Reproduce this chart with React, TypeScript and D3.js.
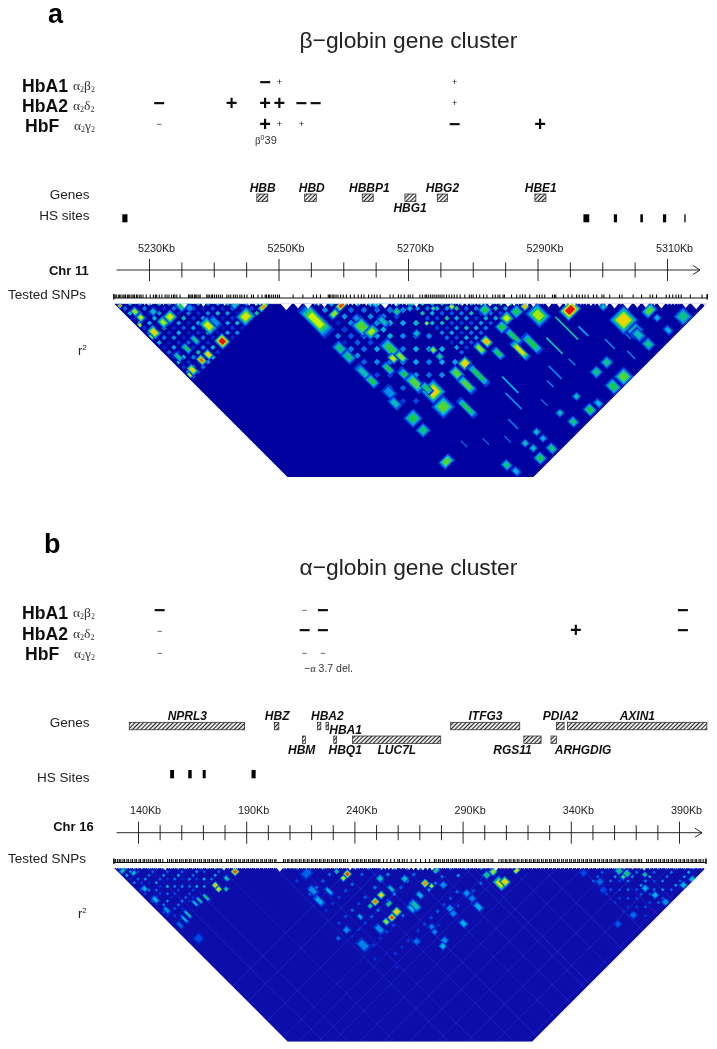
import React from 'react';
import * as d3 from 'd3';

// ---- beta-globin panel ----
const betaSnps = [24.5,24.7,24.9,25.2,25.4,25.6,25.9,26.1,26.3,26.6,26.8,27.0,27.3,27.5,27.7,28.0,28.2,28.5,28.7,29.0,29.5,30.1,30.6,30.9,31.1,31.5,31.9,32.4,32.7,33.0,33.4,33.7,33.9,34.2,34.7,36.0,36.2,36.4,36.6,36.9,37.1,37.3,37.6,37.8,38.8,39.0,39.2,39.5,39.7,40.0,40.3,40.6,40.9,41.2,41.9,42.2,42.5,42.9,43.2,43.5,43.9,44.2,44.6,45.0,45.7,46.0,46.7,47.3,47.8,48.0,48.3,48.5,48.8,49.1,49.4,49.7,50.0,52.1,53.6,55.2,55.7,56.3,57.5,57.7,57.9,58.2,58.4,58.7,59.0,59.4,59.8,60.3,60.9,61.5,62.1,62.6,63.0,63.7,64.2,64.6,65.0,65.5,67.0,67.5,68.3,68.7,69.2,69.8,70.1,70.5,71.6,72.0,72.4,72.6,72.9,73.2,73.5,73.8,74.1,74.4,74.7,75.0,75.3,75.7,76.1,76.5,76.9,77.3,77.8,78.5,79.2,79.5,79.8,80.3,80.8,81.4,81.9,82.8,83.2,83.6,83.9,84.4,84.6,85.7,86.5,87.0,87.4,87.8,88.5,89.6,90.0,90.4,90.8,92.0,92.3,92.5,93.7,94.4,95.0,95.7,96.1,96.6,97.0,97.5,98.3,98.8,99.6,99.9,100.8,102.3,102.7,104.4,105.7,107.0,107.4,108.0,109.5,110.0,110.5,111.0,111.4,111.8,113.2,115.0,115.8];
const betaBlocks = [
  [25.1,25.8,.6,.6,.9],[25.2,31.8,.5,.7,.8],[25.2,35.4,.5,1,.62],[25.2,47.2,.5,1,.7],
  [26.5,29,1,1.2,.6],[26.5,30.8,1,1.2,.65],[26.3,35.1,1.2,1.8,.78],[31.1,35.2,1.6,1.6,.68],[29.2,35,1.2,1.6,.62],[34.7,35.2,1.5,1.5,.5],
  [35.6,42.5,1.6,2.4,.68],[35.4,47,1.6,1.8,.97],[31.2,46.9,1,1.4,.8],[29.3,46.7,1,1.4,.88],[26.4,46.8,1,1.6,.75],[28.8,42.6,.8,1.6,.5],[26.2,42.6,.8,1.6,.45],[31.4,42.6,.8,1.6,.45],
  [42.8,46.8,2.2,2,.7],[47,48,1.6,.8,.85],[29.3,31.8,1,1,.4],[37.3,42.9,1,2,.3],[42.9,43.4,1.2,1,.4],[35.5,36.9,1,1,.3],
  [53,58.2,2,5.5,.66],[52.4,66.2,1.4,2,.45],[52.4,68.8,1.4,2,.45],[52.3,73.6,1.2,3,.4],[52.3,76.2,1.2,2,.5],[53.2,80.6,1.4,2,.3],[52.4,83.1,1.2,2,.4],
  [59.3,59.8,1.8,1,.92],[56.8,60,1.5,1,.6],[59.1,66.2,2,2.5,.55],[59.8,68.5,2,1.5,.62],[60.1,74,1.6,3,.52],[59,75.9,1,1.5,.72],[56.7,76.7,1,2,.5],[64.7,65,1,1,.4],[66.8,69.3,1,1,.5],[59.6,64.1,1,1,.3],[63.2,68.7,1,2,.4],
  [93.7,95.7,2.6,2,.97],[88,91.6,2.4,3,.62],[87.3,88.2,1,1,.82],[85.2,87.7,1.5,1.5,.5],[82.7,87.2,1.6,1.6,.66],[80.6,87.8,1.5,1.5,.5],[80.6,82.6,1.5,1.5,.5],[76,87.7,1.2,1.6,.82],[73.9,87.8,1,2,.6],[80.9,91.1,1,3,.5],[79.8,94.2,1,3.5,.72],[82.7,95,1.2,3.5,.5],[76,91.3,1,2,.5],[69.3,87.7,1.6,1.5,.8],[66.5,88,1.4,2,.55],[69.6,91.6,1,4,.5],[66.3,91.3,1.2,3,.55],[60.1,87.2,2.6,2.6,.76],[59.3,91.1,2.4,2.4,.55],[52.9,88.2,2,2,.5],[58.3,80.8,1.2,3,.5],[58.6,83.1,1.5,3,.55],[59.6,85.7,1,2,.5],[62.8,94.9,1,3.5,.5],[60.5,76.9,1,2,.6],[66.5,80.8,.9,1,.6],[66.5,82.8,.9,1,.45],[66.5,75.7,1,1,.4],[69.6,75.7,.6,.6,.7],[76,77,.8,.8,.7],[72.9,74.4,.6,.6,.55],[69.3,70.8,.8,.8,.4],
  [100.4,105.5,3,3,.76],[100.5,108.9,2,1.6,.5],[100.4,110,1.4,2,.4],[100.5,113,1.4,1.6,.45],[105.8,108,2,1.4,.55],[105.9,110.3,1,1,.35],[105.7,113.9,1,1.4,.35],[110.1,114.1,2,2,.45],
  [91.7,114.2,2,2,.55],[88.6,114.1,1.6,2,.5],[91.3,109.4,1.4,1.4,.45],[88.2,109.3,1.4,1.4,.45],[81.4,114.1,1.4,1.6,.5],[83.7,114.4,1,1.4,.35],[81.4,110,1,1,.4],[77,113.4,1.2,1.4,.45],[76.3,110,1,1,.4],[69.6,114.2,1.2,1.5,.45],[66.3,113.9,1.4,1.5,.5],[66.3,109.3,1,1,.4],[66.8,111.3,1,1,.4],[60.1,109.8,1.2,1.4,.45],[60.6,112.2,1,1.4,.35],[51.4,100,2,1.4,.55],[52.6,91.6,1.6,1.6,.45],[69.8,109.3,1,1,.4],[69.8,111.3,1,1,.35],[99.3,100.3,1,1,.4]
];
const betaStreaks = [[90.4,98,.4,7,.42],[85.8,98.8,.4,5,.4],[92.5,101,.4,3,.32],[73,98,.4,5,.36],[71,101,.4,5,.3],[67.4,104.5,.4,3,.26],[86,104,.3,2,.3],[81.8,103,.4,4,.28],[94.6,107,.3,3,.32],[98.6,108,.3,3,.28],[96.2,112,.3,2.5,.3],[56.8,100,.3,2,.25],[60.5,103,.3,2,.26],[64.2,106,.3,2,.25],[75.5,106,.3,2,.28],[79.3,104,.3,2,.3]];

// coarse r2 readings in percent, rows by left SNP, columns by right SNP
const betaGridPos1 = [25.5,27,28.5,30,31.5,33,34.5,36,37.5,39,40.5,42,43.5,45,46.5,48];
const betaGridR1 = [
  [30,25,38,8,42,14,30,6,36,10,24,8,40,12,34,20],
  [36,9,31,16,34,12,28,26,7,32,11,35,13,29,18],
  [28,27,10,37,8,44,12,30,14,33,10,28,9,26],
  [37,8,30,18,27,11,36,9,24,12,41,16,31],
  [42,12,33,7,31,22,9,38,11,29,8,36],
  [29,26,11,39,9,32,14,28,12,37,15],
  [35,10,28,16,36,8,42,11,30,9],
  [31,22,13,33,15,34,8,37,14],
  [36,9,29,12,40,7,32,11],
  [28,21,37,10,33,16,29],
  [34,12,31,14,38,9],
  [32,24,8,41,17],
  [37,11,33,9],
  [30,19,42],
  [35,16],
  [44]
];
const betaGridPos2 = [54,56,58,60,62,64,66,68,70];
const betaGridR2 = [
  [18,26,12,34,14,28,10,22,30],
  [24,30,20,10,32,16,24,14],
  [36,12,30,22,12,34,20],
  [32,24,14,36,18,26],
  [34,20,30,12,36],
  [38,16,28,22],
  [30,34,18],
  [36,26],
  [40]
];
const betaGridPos3 = [70.5,72,73.5,75,76.5,78,79.5,81,82.5,84,85.5];
const betaGridR3 = [
  [38,30,42,22,36,18,30,26,12,34,24],
  [44,26,36,20,40,14,34,20,30,16],
  [40,34,24,42,20,32,14,36,22],
  [46,30,22,36,18,40,26,30],
  [38,42,28,32,20,36,24],
  [34,24,40,16,32,28],
  [36,28,18,38,22],
  [42,30,26,34],
  [36,38,20],
  [44,32],
  [40]
];
const betaGridA4 = [54,56,58,60,62,64,66,68];
const betaGridB4 = [64,66,68,70,72,74,76,78,80,82,84,86];
const betaGridR4 = [
  [0,0,28,0,24,0,18,0,22,0,16,0],
  [16,22,0,26,0,30,0,18,0,24,0,20],
  [30,0,24,0,34,0,26,0,28,0,22,0],
  [0,28,0,32,0,26,0,32,0,30,0,26],
  [26,0,30,0,36,0,28,0,34,0,26,0],
  [34,24,0,36,0,30,0,36,0,28,0,30],
  [0,32,26,0,34,0,30,0,32,0,34,0],
  [36,0,34,28,0,38,0,28,0,36,0,32]
];

const betaGenes = [
  { name: 'HBB', start: 5246.7, end: 5248.4, labelKb: 5247.6, row: 0, labelRow: 0 },
  { name: 'HBD', start: 5254.1, end: 5255.9, labelKb: 5255.2, row: 0, labelRow: 0 },
  { name: 'HBBP1', start: 5263, end: 5264.7, labelKb: 5264.1, row: 0, labelRow: 0 },
  { name: 'HBG1', start: 5269.6, end: 5271.3, labelKb: 5270.4, row: 0, labelRow: 1 },
  { name: 'HBG2', start: 5274.6, end: 5276.2, labelKb: 5275.4, row: 0, labelRow: 0 },
  { name: 'HBE1', start: 5289.7, end: 5291.4, labelKb: 5290.6, row: 0, labelRow: 0 }
];
const betaHsSites = [[5225.9,5226.7],[5297.2,5298.1],[5301.9,5302.4],[5306,5306.4],[5309.5,5310],[5312.8,5313]];
const betaMarks = [
  [5248,0,'−',1],[5250.2,0,'+',0],[5277.3,0,'+',0],
  [5231.6,1,'−',1],[5242.8,1,'+',1],[5248,1,'+',1],[5250.2,1,'+',1],[5253.6,1,'−',1],[5255.8,1,'−',1],[5277.3,1,'+',0],
  [5231.6,2,'−',0],[5248,2,'+',1],[5250.2,2,'+',0],[5253.6,2,'+',0],[5277.3,2,'−',1],[5290.5,2,'+',1]
];
const betaAxisLabels = [5230,5250,5270,5290,5310];

// ---- alpha-globin panel ----
const alphaSnps = [128.4,129.2,130.1,130.9,131.6,132.6,133.3,134.4,135.1,136.2,137,138.1,138.8,140,140.7,141.9,142.6,143.6,144.5,145.4,146.3,147.4,148.1,149.2,149.9,151,153.2,154.1,155,155.8,156.9,157.6,158.7,159.5,160.4,161.5,162.2,163.3,164.1,165.2,166,167.1,168,168.8,170,170.7,171.8,172.6,173.7,174.4,175.5,176.3,177.4,178.2,180.4,181.2,182.3,183,184.2,185,186.1,186.8,188,188.7,189.8,190.6,191.7,192.5,193.3,194.4,195.1,196.3,197,198.1,198.9,200,200.8,201.6,202.7,203.3,206.8,207.6,208.7,209.3,210.4,211.1,212.2,213,214.1,214.9,216,216.7,217.8,218.6,219.7,220.4,221.5,222.3,223.4,224.1,225.2,226,227.1,227.9,229,229.7,230.8,231.6,232.7,233.4,234.5,235.3,236.4,238.6,239.4,240.5,241.2,242.3,243.1,244.2,245,246.1,246.8,247.9,248.7,249.6,250.6,251.3,253,254.6,256.3,258,259.6,260.4,261.7,262.6,263.9,265.8,267.9,270.1,272.4,274.3,276.5,277.3,278.4,279.2,280.3,281.1,282.2,283,284.1,284.9,286,286.7,287.8,288.6,289.7,290.4,291.5,292.3,293.4,294.1,295.2,296,297.1,297.9,299,299.7,300.8,301.6,302.7,303.5,306.3,307.4,308.2,309.3,310,311.1,311.9,313,313.7,314.8,315.6,316.7,317.5,318.6,319.3,320.4,321.2,322.3,323,324.1,324.9,326,326.8,327.9,328.6,329.7,330.5,331.6,332.3,333.4,334.2,335.3,336.1,337.2,337.9,339,339.8,340.9,341.6,342.7,343.5,344.6,345.4,346.5,347.2,348.3,349.1,350.2,350.9,352,352.8,353.9,354.7,355.8,356.5,357.6,358.4,359.5,360.3,361.4,362.1,363.2,364,365.1,365.8,366.9,367.7,368.8,369.6,370.7,371.4,372.3,374.6,375.4,376.5,377.2,378.3,379.1,380.2,381,382.1,382.8,383.9,384.7,385.8,386.5,387.6,388.4,389.5,390.3,391.4,392.1,393.2,394,395.1,395.9,397,397.7,398.8,399.6,400.7,402];
const alphaBlocks = [
  [182.7,186.1,3,3,.92],[167.3,183.2,2.5,2.5,.82],[167,186.6,2.5,2.5,.76],[170.5,190,2,2,.46],[175.7,185.3,2,3,.42],[157.5,184.6,1.5,4,.5],[153,182.9,1.5,4,.42],[141.2,183.8,1.5,5,.42],[137.4,184.6,1.5,5,.36],[149.6,182.2,1.5,4,.36],[133,152.1,2.5,3,.36],[132.9,162.2,2.5,4,.36],[133.4,172.2,2,4,.3],[132.6,185.3,2,4,.24],[134.9,200,4,4,.2],
  [208.1,238.4,3,6,.34],[209.9,230.7,3,5,.3],[217.1,238.5,2,5,.35],[233.5,239,3,3,.92],[229.7,239.2,2.5,2.5,.66],[229.7,233,2,2,.46],[239.4,264.4,3,3,.76],[233.5,264.7,3,3,.88],[229.2,264.4,2,2,.5],[238.9,279.3,3.5,3.5,.8],[234,279.7,3,3,.92],[229.4,279,2.5,3,.6],[239,272,3,2,.5],[207.3,264.5,3,3,.3],[208,279.2,4,6,.28],[222.9,279.3,3,5,.3],[219.7,264.7,2,3,.35],[246.9,266.2,2,4,.4],[247.3,284.7,3,5,.35],[199.6,264.6,2,2,.25],[234.3,302.3,3,3,.26],[246.6,256.2,3,3,.4],[257.8,267.8,3,3,.4],[131.1,133.7,3,2,.42],[135.2,139.9,2.5,2,.4],[215,220,5,4,.24],
  [265.1,279.3,3,3,.86],[266.9,283.5,2,2,.7],[276.2,278.5,3,2,.5],[272.8,288.5,3,3,.3],[299.7,314,4,6,.74],[302.8,315.5,3.5,4,.8],[313.3,315.7,3,2,.8],[301.9,305.4,3,3,.6],[297.4,303.9,3,3,.46],[279.7,303.1,3,3,.3],[279.9,308,3,3,.28],[278.9,314.7,3,5,.36],[265,302.4,3,3,.3],[264.2,306.2,3,3,.28],[264.3,315.5,3,4,.36],[248.2,302.4,2.5,2.5,.28],[247,306.2,2.5,2.5,.28],[247.7,314.7,3,3,.3],[244.3,316.5,3,3,.38],[250.4,284.8,3,6,.42],[257.3,282.3,2.5,4,.36],
  [361.3,367.9,5,2,.56],[363,368,3,3,.5],[360.4,363.2,3,3,.46],[370.7,376.8,2,2,.5],[366,391,3,3,.36],[364.5,383.3,3,3,.35],[383.7,399.5,3,3,.38],[390.5,401,3,3,.4],[367.5,399,3,3,.3],[346.7,390.2,3,3,.25],[335.4,387.2,3,3,.22],[343.1,347.8,3,3,.2],[346.7,359.3,3,3,.25],[344.4,364.8,3,3,.2]
];
const alphaGridPos1 = [131,134.4,137.8,141.2,144.6,148,151.4,154.8,158.2,161.6,165,168.4,171.8,175.2,178.6];
const alphaGridR1 = [
  [30,22,34,12,28,0,24,18,0,26,14,0,20,12,0],
  [26,30,0,24,18,0,28,0,22,0,26,12,0,18],
  [32,20,0,30,14,0,24,18,0,28,0,22,0],
  [28,0,26,0,32,16,0,24,12,0,26,14],
  [30,24,0,22,0,34,0,20,0,28,0],
  [26,0,30,14,0,28,18,0,24,12],
  [32,22,0,26,0,30,0,22,14],
  [28,0,34,12,0,26,20,0],
  [30,24,0,28,0,36,0],
  [32,0,26,18,0,30],
  [28,30,0,34,12],
  [34,22,0,26],
  [30,0,32],
  [36,24],
  [32]
];
const alphaGridPos2 = [207,213,219,225,231,240,246,252,258,264,270,276,284,291,298,305];
const alphaGridR2 = [
  [24,0,18,0,22,0,14,0,18,0,12,0,0,14,0,0],
  [26,20,0,24,0,16,0,20,0,14,0,16,0,0,12],
  [28,0,22,0,18,0,24,0,18,0,14,0,16,0],
  [30,24,0,20,0,18,0,22,0,18,0,14,0],
  [26,0,24,0,22,0,26,0,20,0,16,0],
  [28,22,0,26,0,20,0,24,0,16,0],
  [30,0,24,0,28,0,22,0,18,0],
  [26,28,0,22,0,26,0,20,14],
  [30,0,26,0,24,0,22,0],
  [28,24,0,28,0,18,0],
  [30,0,26,0,22,16],
  [32,24,0,24,0],
  [26,30,0,20],
  [28,0,24],
  [30,22],
  [26]
];
const alphaGridPos3 = [344,348,352,356,360,364,368,372,376,380,384,388,392,396];
const alphaGridR3 = [
  [26,22,0,24,0,18,20,0,16,0,14,0,0,0],
  [28,0,24,18,0,22,0,18,0,16,0,14,0],
  [26,24,0,26,0,20,0,22,0,18,0,16],
  [28,0,30,20,0,26,0,18,0,22,0],
  [30,26,0,28,0,22,24,0,20,0],
  [34,0,28,0,30,0,20,0,24],
  [36,26,0,28,0,26,0,22],
  [30,0,32,20,0,30,0],
  [28,24,0,28,0,24],
  [30,0,26,0,30],
  [26,28,0,24],
  [32,0,30],
  [28,34],
  [30]
];
const alphaFaintA = [145,156.5,178,203,215,233,246,263,277,290.5,294.8,312,326,344,358,372];
const alphaFaintB = [238,252,270,285,294,303,310,322,333,345,358,372,385,398.7];
const alphaGenes = [
  { name: 'NPRL3', start: 135.8, end: 189.4, labelKb: 162.8, row: 0, labelRow: 0 },
  { name: 'HBZ', start: 203.2, end: 205.3, labelKb: 204.5, row: 0, labelRow: 0 },
  { name: 'HBA2', start: 223.2, end: 224.8, labelKb: 227.8, row: 0, labelRow: 0 },
  { name: 'HBA1', start: 227.2, end: 228.4, labelKb: 236.3, row: 0, labelRow: 1 },
  { name: 'ITFG3', start: 285.1, end: 317.2, labelKb: 301.3, row: 0, labelRow: 0 },
  { name: 'PDIA2', start: 334.2, end: 337.8, labelKb: 336.1, row: 0, labelRow: 0 },
  { name: 'AXIN1', start: 339.3, end: 404.1, labelKb: 371.8, row: 0, labelRow: 0 },
  { name: 'HBM', start: 216.3, end: 217.6, labelKb: 215.9, row: 1, labelRow: 2 },
  { name: 'HBQ1', start: 230.8, end: 232.1, labelKb: 236.1, row: 1, labelRow: 2 },
  { name: 'LUC7L', start: 239.5, end: 280.5, labelKb: 260.1, row: 1, labelRow: 2 },
  { name: 'RGS11', start: 319.1, end: 327.1, labelKb: 313.8, row: 1, labelRow: 2 },
  { name: 'ARHGDIG', start: 331.7, end: 334.2, labelKb: 346.6, row: 1, labelRow: 2 }
];
const alphaHsSites = [[154.8,156.6],[163.2,164.8],[169.9,171.3],[192.6,194.5]];
const alphaMarks = [
  [149.9,0,'−',1],[217.2,0,'−',0],[225.7,0,'−',1],[393,0,'−',1],
  [149.9,1,'−',0],[217.2,1,'−',1],[225.7,1,'−',1],[343.3,1,'+',1],[393,1,'−',1],
  [149.9,2,'−',0],[217.2,2,'−',0],[225.7,2,'−',0]
];
const alphaAxisLabels = [140,190,240,290,340,390];

const hbNames = ['HbA1', 'HbA2', 'HbF'];
const hbChains = ['β', 'δ', 'γ'];

const r2Color = d3.scaleLinear<string>()
  .domain([0, .2, .35, .5, .65, .8, .95])
  .range(['#00009e', '#0046e6', '#00b4e6', '#14c850', '#c8f000', '#ffc800', '#ee2000']);

const SANS = '"Liberation Sans", Arial, sans-serif';
const SERIF = '"Liberation Serif", serif';

// turns a triangular table into block rows [a, b, widthA, widthB, r2]
const triCells = (pos: number[], rows: number[][], w: number) =>
  rows.flatMap((row, i) => row.map((v, k) => [pos[i], pos[i + k], w, w, v / 100])).filter(d => d[4] > 0 && d[1] > d[0] - .01);
const rectCells = (as: number[], bs: number[], rows: number[][], w: number) =>
  rows.flatMap((row, i) => row.map((v, j) => [as[i], bs[j], w, w, v / 100])).filter(d => d[4] > 0);

function Panel({ cfg }: { cfg: any }) {
  const axisX = d3.scaleLinear().domain(cfg.domain).range(cfg.axisRange);
  const featX = d3.scaleLinear().domain(cfg.domain).range(cfg.featRange);
  const x = d3.scaleLinear().domain(cfg.domain).range(cfg.trackRange);
  const base = cfg.snpBase;
  const snps: number[] = cfg.snpList.map((d: number) => d + base);
  const first = snps[0];
  const last = snps[snps.length - 1];
  const top = cfg.heatTop;
  const depth = cfg.heatBottom - top;
  const pt = (a: number, b: number) => {
    const xa = x(a), xb = x(b);
    return [(xa + xb) / 2, top + (xb - xa) / 2];
  };
  const poly = (a: number, b: number, wa: number, wb: number) =>
    [[a - wa / 2, b - wb / 2], [a + wa / 2, b - wb / 2], [a + wa / 2, b + wb / 2], [a - wa / 2, b + wb / 2]]
      .map(([p, q]) => pt(p + base, q + base).join(',')).join(' ');

  const trapezoid = [
    [x(first), top], [x(last), top], [x(last) - depth, top + depth], [x(first) + depth, top + depth]
  ].map(d => d.join(',')).join(' ');

  // a block is drawn as nested rings, cold at the rim and hot in the middle
  const rings = (row: number[], key: string) => {
    const [a, b, wa, wb, v] = row;
    const n = v > .6 ? 5 : v > .3 ? 3 : 2;
    return d3.range(n).map(k => {
      const t = (k + 1) / n;
      const s = 1.55 - 1.1 * (k / n);
      return <polygon key={key + '-' + k} points={poly(a, b, wa * s, wb * s)} fill={r2Color(v * t)} />;
    });
  };

  const heatBlocks = cfg.blocks.map((row: number[], i: number) => rings(row, 'b' + i));
  const speckles = cfg.speckles.map((row: number[], i: number) => (
    <polygon key={'s' + i} points={poly(row[0], row[1], row[2], row[3])} fill={r2Color(row[4])} />
  ));
  const streaks = (cfg.streaks || []).map(([a, b, wa, wb, v]: number[], i: number) => (
    <polygon key={'l' + i} points={poly(a, b, wa, wb)} fill={r2Color(v)} />
  ));
  const span = 2 * depth / (x(1) - x(0));
  const faintA = (cfg.faintA || []).map((a: number, i: number) => {
    const [x1, y1] = pt(a, a);
    const [x2, y2] = pt(a, a + span);
    return <line key={'fa' + i} x1={x1} y1={y1} x2={x2} y2={y2} stroke="#3a50e8" strokeWidth={.7} opacity={.55} />;
  });
  const faintB = (cfg.faintB || []).map((b: number, i: number) => {
    const [x1, y1] = pt(b, b);
    const [x2, y2] = pt(b - span, b);
    return <line key={'fb' + i} x1={x1} y1={y1} x2={x2} y2={y2} stroke="#3a50e8" strokeWidth={.7} opacity={.55} />;
  });

  // notches along the top edge come from the spacing between adjacent SNPs
  const notches = d3.pairs(snps).map(([a, b], i) => {
    const [mx, my] = pt(a, b);
    return <polygon key={'n' + i} points={`${x(a)},${top - 1} ${x(b)},${top - 1} ${mx},${my}`} fill="#fff" />;
  });

  const ticks = d3.range(cfg.tickStart, cfg.tickEnd + 1, cfg.tickStep);
  const clipId = 'clip-' + cfg.id;

  return (
    <g fontFamily={SANS}>
      <text x={cfg.letter[0]} y={cfg.letter[1]} fontSize={27} fontWeight="bold">{cfg.letter[2]}</text>
      <text x={299.5} y={cfg.titleY} fontSize={22.8} fill="#222">{cfg.title}</text>

      {hbNames.map((name, i) => (
        <g key={name}>
          <text x={i === 2 ? 25 : 22} y={cfg.hbY[i]} fontSize={17.6} fontWeight="bold" fill="#111">{name}</text>
          <text x={i === 2 ? 74 : 73} y={cfg.hbY[i] - 2} fontFamily={SERIF} fontSize={13.5} fill="#333">
            α<tspan fontSize={8} dy={2}>2</tspan>
            <tspan dy={-2}>{hbChains[i]}</tspan><tspan fontSize={8} dy={2}>2</tspan>
          </text>
        </g>
      ))}
      {cfg.marks.map(([kb, row, sign, big]: any[], i: number) => {
        const size = big ? 20 : 9;
        return (
          <text key={i} x={featX(kb)} y={cfg.markY[row] + size * .33} textAnchor="middle" fontSize={size}
            fontWeight={big ? 'bold' : 'normal'} fill="#111">{sign}</text>
        );
      })}
      {cfg.note}

      <text x={89.6} y={cfg.genesY} textAnchor="end" fontSize={13.5} fill="#222">Genes</text>
      <text x={89.6} y={cfg.hsY} textAnchor="end" fontSize={13.5} fill="#222">{cfg.hsLabel}</text>
      {cfg.genes.map((g: any) => (
        <g key={g.name}>
          <rect x={featX(g.start)} y={cfg.geneRowY[g.row]} width={featX(g.end) - featX(g.start)} height={7.5}
            fill="url(#hatch)" stroke="#222" strokeWidth={.7} />
          <text x={featX(g.labelKb)} y={cfg.geneLabelY[g.labelRow]} textAnchor="middle" fontSize={12}
            fontWeight="bold" fontStyle="italic" fill="#111">{g.name}</text>
        </g>
      ))}
      {cfg.hsSites.map(([s, e]: number[], i: number) => (
        <rect key={i} x={featX(s)} y={cfg.hsRect[0]} width={featX(e) - featX(s)} height={cfg.hsRect[1]} fill="#000" />
      ))}

      {cfg.axisLabels.map((kb: number) => (
        <text key={kb} x={axisX(kb) + 7} y={cfg.axisLabelY} textAnchor="middle" fontSize={10.8} fill="#222">{kb}Kb</text>
      ))}
      <text x={cfg.chrX} y={cfg.chrY} textAnchor="end" fontSize={13} fontWeight="bold" fill="#111">{cfg.chr}</text>
      <line x1={116.6} x2={cfg.arrowX} y1={cfg.axisY} y2={cfg.axisY} stroke="#111" strokeWidth={.9} />
      <path d={`M${cfg.arrowX - 7},${cfg.axisY - 4.5}L${cfg.arrowX},${cfg.axisY}L${cfg.arrowX - 7},${cfg.axisY + 4.5}`} fill="none" stroke="#111" strokeWidth={.9} />
      {ticks.map((t: number, i: number) => {
        const major = i % cfg.majorEvery === 0;
        return (
          <line key={t} x1={axisX(t)} x2={axisX(t)} y1={cfg.axisY - (major ? 11 : 7.5)} y2={cfg.axisY + (major ? 11 : 7.5)}
            stroke="#111" strokeWidth={.9} />
        );
      })}

      <text x={8} y={cfg.snpLabelY} fontSize={13.5} fill="#222">Tested SNPs</text>
      {snps.map((s, i) => (
        <line key={i} x1={x(s)} x2={x(s)} y1={cfg.snpY - 3.5} y2={cfg.snpY} stroke="#111" strokeWidth={1.1} />
      ))}
      <line x1={x(first)} x2={x(last)} y1={cfg.snpY} y2={cfg.snpY} stroke="#111" strokeWidth={1.2} />
      <line x1={x(first)} x2={x(first)} y1={cfg.snpY - 4} y2={cfg.snpY + 1.5} stroke="#111" strokeWidth={1.4} />
      <line x1={x(last)} x2={x(last)} y1={cfg.snpY - 4} y2={cfg.snpY + 1.5} stroke="#111" strokeWidth={1.4} />

      <text x={78} y={cfg.r2Y} fontSize={13} fill="#222">r<tspan fontSize={8} dy={-5}>2</tspan></text>

      <clipPath id={clipId}><polygon points={trapezoid} /></clipPath>
      <g clipPath={`url(#${clipId})`}>
        <g filter="url(#soft)">
          <polygon points={trapezoid} fill={cfg.baseBlue} />
          {faintA}
          {faintB}
          {speckles}
          {streaks}
          {heatBlocks}
        </g>
        {notches}
      </g>
    </g>
  );
}

const betaConfig = {
  id: 'beta', letter: [48, 22.7, 'a'], title: 'β−globin gene cluster', titleY: 47.7,
  hbY: [91.7, 112, 132], markY: [82, 103.3, 124], marks: betaMarks,
  note: (
    <text x={255} y={144} fontSize={11} fill="#333">
      <tspan fontFamily={SERIF}>β</tspan><tspan fontSize={7} dy={-4}>0</tspan><tspan dy={4}>39</tspan>
    </text>
  ),
  genesY: 199, hsY: 220, hsLabel: 'HS sites', genes: betaGenes, geneRowY: [194], geneLabelY: [191.7, 211.7],
  hsSites: betaHsSites, hsRect: [214.3, 8],
  domain: [5230, 5310], axisRange: [149.5, 667.5], featRange: [148.8, 666.2], trackRange: [149.5, 669.5],
  axisLabels: betaAxisLabels, axisLabelY: 251.7,
  chr: 'Chr 11', chrX: 88.7, chrY: 275, axisY: 270, arrowX: 700,
  tickStart: 5230, tickEnd: 5310, tickStep: 5, majorEvery: 4,
  snpList: betaSnps, snpBase: 5200, snpLabelY: 299, snpY: 298, r2Y: 355,
  heatTop: 303.5, heatBottom: 477, baseBlue: '#00009e',
  blocks: betaBlocks,
  speckles: [
    ...triCells(betaGridPos1, betaGridR1, .8),
    ...triCells(betaGridPos2, betaGridR2, 1),
    ...triCells(betaGridPos3, betaGridR3, .8),
    ...rectCells(betaGridA4, betaGridB4, betaGridR4, 1)
  ],
  streaks: betaStreaks
};

const alphaConfig = {
  id: 'alpha', letter: [44, 553, 'b'], title: 'α−globin gene cluster', titleY: 575,
  hbY: [619, 640, 660], markY: [610, 630.7, 652.7], marks: alphaMarks,
  note: <text x={304} y={671.7} fontSize={10.5} fill="#333">−<tspan fontFamily={SERIF}>α</tspan> 3.7 del.</text>,
  genesY: 727, hsY: 782, hsLabel: 'HS Sites', genes: alphaGenes, geneRowY: [722.3, 736], geneLabelY: [720, 734, 754.3],
  hsSites: alphaHsSites, hsRect: [770, 8.3],
  domain: [140, 390], axisRange: [138.5, 679.5], featRange: [138.3, 676.5], trackRange: [139, 680],
  axisLabels: alphaAxisLabels, axisLabelY: 814,
  chr: 'Chr 16', chrX: 93.7, chrY: 831, axisY: 832.7, arrowX: 702,
  tickStart: 140, tickEnd: 390, tickStep: 10, majorEvery: 5,
  snpList: alphaSnps, snpBase: 0, snpLabelY: 863, snpY: 862.5, r2Y: 918,
  heatTop: 868, heatBottom: 1041.7, baseBlue: '#0a0aaa',
  blocks: alphaBlocks,
  speckles: [
    ...triCells(alphaGridPos1, alphaGridR1, 1.7),
    ...triCells(alphaGridPos2, alphaGridR2, 2),
    ...triCells(alphaGridPos3, alphaGridR3, 1.7)
  ],
  faintA: alphaFaintA, faintB: alphaFaintB
};

export default function App() {
  return (
    <svg width={717} height={1049} style={{ position: 'absolute', left: 0, top: 0, background: '#fff' }}>
      <defs>
        <pattern id="hatch" width={3} height={3} patternUnits="userSpaceOnUse" patternTransform="rotate(45)">
          <rect width={3} height={3} fill="#e8e8e8" />
          <line x1={0} y1={0} x2={0} y2={3} stroke="#222" strokeWidth={2} />
        </pattern>
        <filter id="soft" x="-2%" y="-2%" width="104%" height="104%">
          <feGaussianBlur stdDeviation={.75} />
        </filter>
        <filter id="scan" x="0" y="0" width="100%" height="100%">
          <feGaussianBlur stdDeviation={.3} />
        </filter>
      </defs>
      <g filter="url(#scan)">
        <rect width={717} height={1049} fill="#fff" />
        <Panel cfg={betaConfig} />
        <Panel cfg={alphaConfig} />
      </g>
    </svg>
  );
}
